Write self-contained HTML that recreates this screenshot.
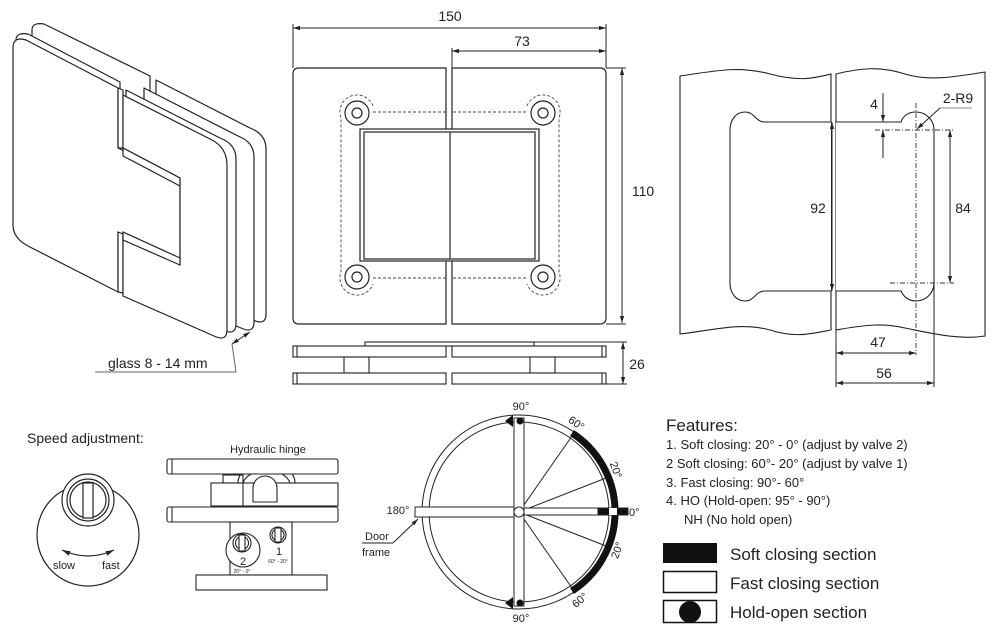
<!DOCTYPE html>
<html><head><meta charset="utf-8"><style>
html,body{margin:0;padding:0;background:#fff;}
svg{display:block;font-family:"Liberation Sans",Arial,sans-serif;}
text{fill:#222;}
</style></head><body>
<svg width="994" height="634" viewBox="0 0 994 634" xmlns="http://www.w3.org/2000/svg">
<defs>
<marker id="a" viewBox="0 0 10 10" refX="10" refY="5" markerWidth="7" markerHeight="7" orient="auto-start-reverse"><path d="M0,2 L10,5 L0,8 z" fill="#222"/></marker>
</defs>
<g fill="#fff" stroke="#222" stroke-width="1.2" stroke-linejoin="round">
<!-- ISO VIEW back layer -->
<g transform="translate(38,-16)">
<path d="M-6,46 Q-6,38 6,40 L112,92 L112,292 L15,245 Q-6,238 -6,225 Z"/>
<path d="M118,96 L212,144 Q228,150 228,165 L228,330 Q228,342 215,336 L118,294 Z"/>
</g>
<g transform="translate(26,-8)">
<path d="M118,96 L212,144 Q228,150 228,165 L228,330 Q228,342 215,336 L118,294 Z"/>
</g>
<g transform="translate(8,-6)">
<path d="M118,96 L212,144 Q228,150 228,165 L228,330 Q228,342 215,336 L118,294 Z"/>
<path d="M8,46 Q8,38 20,40 L112,88 L112,290 L25,245 Q8,238 8,225 Z"/>
</g>
<!-- front left piece -->
<path d="M13,48 Q13,36 26,40 L118,88 L118,148 L180,178 L180,265 L118,232 L118,292 L28,246 Q13,238 13,225 Z"/>
<path d="M118,88 L123,90 L123,148 L118,148 Z"/>
<path d="M118,232 L123,234 L123,293 L118,292 Z"/>
<path d="M123,95 L212,140 Q227,148 227,165 L227,330 Q227,342 214,336 L123,296 L123,232 L180,265 L180,178 L123,148 Z"/>
<path d="M123,148 L180,178 L180,186 L123,156 Z"/>
<path d="M123,232 L180,258 L180,265 L123,240 Z"/>
</g>
<line x1="232" y1="344" x2="250" y2="332" stroke="#222" marker-start="url(#a)" marker-end="url(#a)"/>
<polyline points="95,372 236,372 232,344" fill="none" stroke="#666"/>
<text x="108" y="368" font-size="14">glass 8 - 14 mm</text>

<!-- FRONT VIEW -->
<g fill="#fff" stroke="#222" stroke-width="1.2">
<path d="M446,68 L299,68 Q293,68 293,74 L293,318 Q293,324 299,324 L446,324 Z"/>
<path d="M452,68 L600,68 Q606,68 606,74 L606,318 Q606,324 600,324 L452,324 Z"/>
<rect x="360" y="129" width="179" height="132"/>
<rect x="364" y="132" width="171" height="127"/>
<line x1="450" y1="132" x2="450" y2="259"/>
<circle cx="357" cy="113" r="12"/><circle cx="357" cy="113" r="5"/>
<circle cx="543" cy="113" r="12"/><circle cx="543" cy="113" r="5"/>
<circle cx="357" cy="277" r="12"/><circle cx="357" cy="277" r="5"/>
<circle cx="543" cy="277" r="12"/><circle cx="543" cy="277" r="5"/>
</g>
<g fill="none" stroke="#444" stroke-width="0.9" stroke-dasharray="3,2">
<path d="M373,112 L446,112 M453,112 L527,112 M373,278 L446,278 M453,278 L527,278"/>
<path d="M373,106 A17,17 0 1 0 341,118 L341,272 A17,17 0 0 0 373,284"/>
<path d="M527,106 A17,17 0 1 1 559,118 L559,272 A17,17 0 0 1 527,284"/>
</g>
<g stroke="#222" stroke-width="1" fill="none">
<line x1="293" y1="28" x2="606" y2="28" marker-start="url(#a)" marker-end="url(#a)"/>
<line x1="293" y1="24" x2="293" y2="68"/><line x1="606" y1="24" x2="606" y2="68"/>
<line x1="452" y1="51" x2="606" y2="51" marker-start="url(#a)" marker-end="url(#a)"/>
<line x1="452" y1="48" x2="452" y2="68"/>
<line x1="622" y1="68" x2="622" y2="323" marker-start="url(#a)" marker-end="url(#a)"/>
<line x1="606" y1="68" x2="626" y2="68"/><line x1="606" y1="324" x2="626" y2="324"/>
<line x1="623" y1="342" x2="623" y2="384" marker-start="url(#a)" marker-end="url(#a)"/>
<line x1="534" y1="342" x2="627" y2="342"/><line x1="606" y1="384" x2="627" y2="384"/>
</g>
<text x="450" y="21" font-size="14" text-anchor="middle">150</text>
<text x="522" y="46" font-size="14" text-anchor="middle">73</text>
<text x="643" y="196" font-size="14" text-anchor="middle">110</text>
<text x="637" y="369" font-size="14" text-anchor="middle">26</text>
<!-- side view -->
<g fill="#fff" stroke="#222" stroke-width="1.1">
<rect x="365" y="342" width="169" height="4"/>
<rect x="293" y="346" width="153" height="11"/><rect x="452" y="346" width="154" height="11"/>
<line x1="297" y1="346" x2="297" y2="357"/><line x1="602" y1="346" x2="602" y2="357"/>
<rect x="344" y="357" width="25" height="16"/><rect x="530" y="357" width="25" height="16"/>
<rect x="293" y="373" width="153" height="11"/><rect x="452" y="373" width="154" height="11"/>
<line x1="297" y1="373" x2="297" y2="384"/><line x1="602" y1="373" x2="602" y2="384"/>
</g>

<!-- RIGHT VIEW -->
<g fill="#fff" stroke="#222" stroke-width="1.1">
<path d="M680,76 C720,70 740,66 770,74 C800,82 815,78 831,74 L831,330 C810,334 795,338 770,330 C740,322 715,330 680,334 Z"/>
<path d="M836,74 C860,68 880,66 905,74 C930,82 960,76 985,72 L985,336 C960,340 935,334 905,328 C880,322 860,326 836,330 Z"/>
<path d="M831,122 L765,122 C755,122 755,112 745,112 C736,112 730,120 730,130 L730,283 C730,293 736,301 745,301 C755,301 755,291 765,291 L831,291"/>
<path d="M836,122 L901,122 C904,114 910,112 916,112 C926,112 934,120 934,130 L934,283 C934,293 926,301 916,301 C910,301 904,298 901,291 L836,291"/>
</g>
<g stroke="#222" stroke-width="1" fill="none">
<line x1="832" y1="122" x2="832" y2="291" marker-start="url(#a)" marker-end="url(#a)"/>
<line x1="950" y1="130" x2="950" y2="283" marker-start="url(#a)" marker-end="url(#a)"/>
<line x1="883" y1="93" x2="883" y2="122" marker-end="url(#a)"/>
<line x1="883" y1="158" x2="883" y2="130" marker-end="url(#a)"/>
<line x1="836" y1="291" x2="836" y2="387"/><line x1="934" y1="283" x2="934" y2="387"/>
<line x1="836" y1="353" x2="916" y2="353" marker-start="url(#a)" marker-end="url(#a)"/>
<line x1="836" y1="383" x2="934" y2="383" marker-start="url(#a)" marker-end="url(#a)"/>
<line x1="940" y1="108" x2="917" y2="129" marker-end="url(#a)"/>
<line x1="940" y1="108" x2="972" y2="108" stroke="#888"/>
</g>
<g stroke="#333" stroke-width="0.9" stroke-dasharray="5,2,1,2" fill="none">
<line x1="916" y1="103" x2="916" y2="355"/>
<line x1="875" y1="130" x2="954" y2="130"/>
<line x1="890" y1="283" x2="954" y2="283"/>
</g>
<text x="818" y="213" font-size="14" text-anchor="middle">92</text>
<text x="963" y="213" font-size="14" text-anchor="middle">84</text>
<text x="874" y="109" font-size="14" text-anchor="middle">4</text>
<text x="958" y="103" font-size="14" text-anchor="middle">2-R9</text>
<text x="878" y="347" font-size="14" text-anchor="middle">47</text>
<text x="884" y="378" font-size="14" text-anchor="middle">56</text>

<!-- SPEED ADJUSTMENT -->
<text x="27" y="443" font-size="14">Speed adjustment:</text>
<g fill="#fff" stroke="#222" stroke-width="1.2">
<circle cx="88" cy="535" r="51"/>
<circle cx="88" cy="500" r="26"/><circle cx="88" cy="500" r="21"/><circle cx="88" cy="500" r="18"/>
<rect x="83" y="483" width="10" height="35"/>
<path d="M62,550 Q88,562 114,550" fill="none" marker-start="url(#a)" marker-end="url(#a)"/>
</g>
<text x="53" y="569" font-size="11">slow</text>
<text x="102" y="569" font-size="11">fast</text>

<text x="268" y="453" font-size="11" text-anchor="middle">Hydraulic hinge</text>
<g fill="#fff" stroke="#222" stroke-width="1.1">
<rect x="223" y="475" width="20" height="8"/>
<path d="M238,483 A28,20 0 0 1 295,483" fill="none"/>
<path d="M243,483 A24,16 0 0 1 290,483" fill="none"/>
<rect x="167" y="459" width="171" height="15" rx="2"/><line x1="172" y1="459" x2="172" y2="474"/>
<rect x="211" y="483" width="127" height="23"/><line x1="243" y1="483" x2="243" y2="506"/>
<path d="M253,502 L253,488 A12,12 0 0 1 277,488 L277,502 Z"/>
<rect x="167" y="507" width="171" height="15" rx="2"/><line x1="172" y1="507" x2="172" y2="522"/>
<rect x="230" y="522" width="62" height="53"/>
<rect x="196" y="575" width="131" height="15"/>
<circle cx="243" cy="550" r="17"/>
<circle cx="242" cy="543" r="9"/><circle cx="242" cy="543" r="6.5"/><rect x="239" y="535" width="6" height="16"/>
<circle cx="278" cy="535" r="8"/><circle cx="278" cy="535" r="6"/><rect x="275" y="528" width="6" height="14"/>
</g>
<text x="243" y="565" font-size="11" text-anchor="middle">2</text>
<text x="279" y="555" font-size="11" text-anchor="middle">1</text>
<text x="278" y="563" font-size="5" text-anchor="middle">60° - 20°</text>
<text x="242" y="573" font-size="5" text-anchor="middle">20° - 0°</text>

<!-- DIAL -->
<g stroke="#222" stroke-width="1" fill="none">
<circle cx="519" cy="512" r="97"/>
<circle cx="519" cy="512" r="90"/>
<path d="M572,433 A94,94 0 0 1 572,591" stroke-width="7" stroke="#111"/>
<line x1="519" y1="512" x2="572" y2="436"/>
<line x1="519" y1="512" x2="606" y2="478"/>
<line x1="519" y1="512" x2="606" y2="546"/>
<line x1="519" y1="512" x2="572" y2="588"/>
<rect x="415" y="507" width="104" height="10" fill="#fff"/>
<rect x="519" y="508" width="94" height="7" fill="#fff"/>
<rect x="514" y="418" width="10" height="188" fill="#fff"/>
<rect x="598" y="508" width="30" height="7" fill="#111"/>
<rect x="609" y="508" width="8" height="7" fill="#fff" stroke="none"/>
<circle cx="519" cy="512" r="5" fill="#fff"/>
<line x1="393" y1="543" x2="418" y2="519" marker-end="url(#a)"/>
<line x1="362" y1="543" x2="393" y2="543"/>
</g>
<path d="M505,421 L513,415 L513,427 Z M505,603 L513,597 L513,609 Z" fill="#111"/>
<circle cx="520" cy="421" r="3.5" fill="#111"/><circle cx="520" cy="603" r="3.5" fill="#111"/>
<text x="521" y="410" font-size="11" text-anchor="middle">90°</text>
<text x="521" y="622" font-size="11" text-anchor="middle">90°</text>
<text x="398" y="514" font-size="11" text-anchor="middle">180°</text>
<text x="629" y="516" font-size="11">0°</text>
<text x="568" y="428" font-size="11" transform="rotate(35 578 424)">60°</text>
<text x="605" y="470" font-size="11" transform="rotate(70 612 470)">20°</text>
<text x="607" y="560" font-size="11" transform="rotate(-70 612 552)">20°</text>
<text x="571" y="605" font-size="11" transform="rotate(-40 578 600)">60°</text>
<text x="365" y="540" font-size="11">Door</text>
<text x="362" y="556" font-size="11">frame</text>

<!-- LEGEND -->
<text x="666" y="431" font-size="17">Features:</text>
<g font-size="13">
<text x="666" y="449">1. Soft closing: 20° - 0° (adjust by valve 2)</text>
<text x="666" y="468">2  Soft closing: 60°- 20° (adjust by valve 1)</text>
<text x="666" y="487">3. Fast closing: 90°- 60°</text>
<text x="666" y="505">4. HO (Hold-open: 95° - 90°)</text>
<text x="684" y="524">NH (No hold open)</text>
</g>
<rect x="663" y="543" width="54" height="20" fill="#111"/>
<rect x="663.5" y="571.5" width="53" height="21" fill="#fff" stroke="#111" stroke-width="1.5"/>
<rect x="663.5" y="600.5" width="53" height="22" fill="#fff" stroke="#111" stroke-width="1.5"/>
<circle cx="690" cy="612" r="11" fill="#111"/>
<g font-size="17">
<text x="730" y="560">Soft closing section</text>
<text x="730" y="589">Fast closing section</text>
<text x="730" y="618">Hold-open section</text>
</g>
</svg>
</body></html>
